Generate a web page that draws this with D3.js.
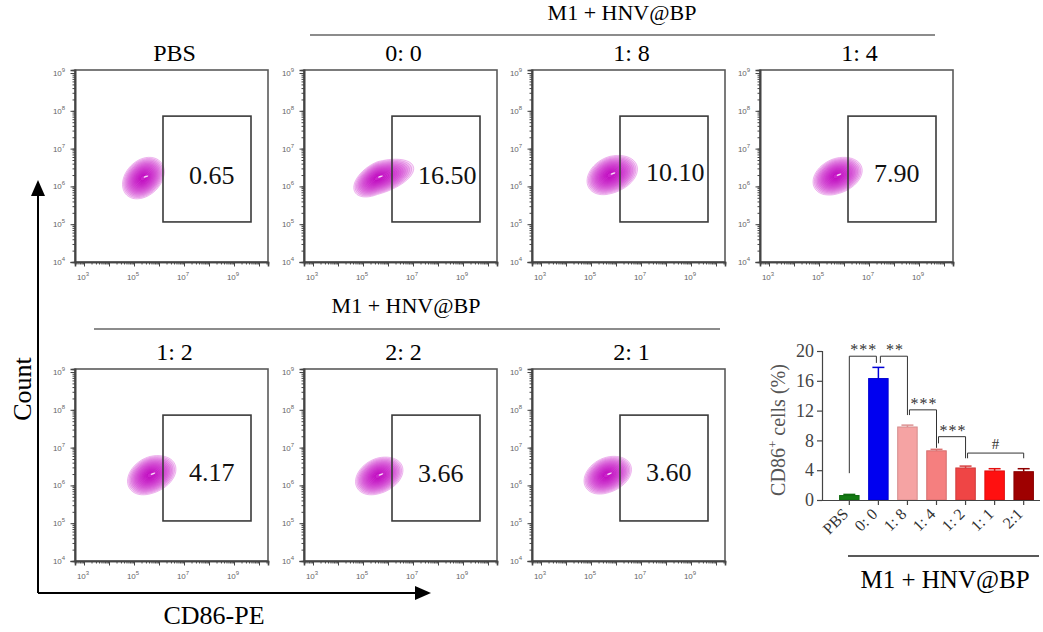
<!DOCTYPE html>
<html>
<head>
<meta charset="utf-8">
<script src="https://cdn.jsdelivr.net/npm/d3@7"></script>
<style>
  body { margin: 0; background: #fff; }
  svg { display: block; font-family: "Liberation Serif", "Times New Roman", serif; }
</style>
</head>
<body>
<svg id="fig" width="1043" height="632"></svg>
<script>
// ---- flow panels ----
var panelTitles = ["PBS", "0: 0", "1: 8", "1: 4", "1: 2", "2: 2", "2: 1"];
var gateValues = ["0.65", "16.50", "10.10", "7.90", "4.17", "3.66", "3.60"];
// population blob, log10 units
var popX = [5.36, 5.58, 5.76, 5.68, 5.64, 5.60, 5.62];
var popY = [6.22, 6.22, 6.30, 6.27, 6.27, 6.25, 6.27];
var popSpreadL = [0.82, 0.95, 0.92, 0.92, 0.9, 0.9, 0.9];
var popSpreadR = [0.85, 1.45, 1.10, 1.05, 1.04, 1.0, 1.0];
var popSpreadY = [0.55, 0.50, 0.52, 0.50, 0.52, 0.50, 0.50];
var popTilt = [0.3, 0.5, 0.3, 0.3, 0.3, 0.3, 0.3];
var gateX = [6.16, 9.68];
var gateY = [5.06, 7.86];
var xLabelExp = [3, 5, 7, 9];
var yLabelExp = [4, 5, 6, 7, 8, 9];

// ---- bar chart ----
var barGroups = ["PBS", "0: 0", "1: 8", "1: 4", "1: 2", "1: 1", "2:1"];
var barMean = [0.6, 16.3, 9.8, 6.6, 4.3, 3.9, 3.8];
var barErr = [0.15, 1.5, 0.25, 0.2, 0.25, 0.3, 0.4];
var barColors = ["#127a12", "#0000f0", "#f5a3a3", "#f57f7f", "#ef4545", "#ff1010", "#9e0000"];
var yTicks = [0, 4, 8, 12, 16, 20];
// significance brackets
var sigFrom = [0, 1, 2, 3, 4];
var sigTo = [1, 2, 3, 4, 6];
var sigLeft = [3.6, 18.4, 11.4, 7.6, 5.6];
var sigTop = [19.3, 19.3, 12.1, 8.5, 6.3];
var sigRight = [18.4, 11.4, 7.0, 5.6, 5.6];
var sigLabel = ["***", "**", "***", "***", "#"];

var svg = d3.select("#fig");
var serif = '"Liberation Serif", "Times New Roman", serif';

var colX = [75, 304, 532, 760];
var rowY = [70, 369];
var PW = 193, PH = 192;

var x = d3.scaleLog().domain([Math.pow(10, 2.64), Math.pow(10, 10.36)]).range([0, PW]);
var y = d3.scaleLog().domain([1e4, Math.pow(10, 9.08)]).range([PH, 0]);

var minorX = [], minorY = [];
for (var d = 2; d <= 10; d++) {
  for (var m = 1; m <= 9; m++) {
    var v = m * Math.pow(10, d);
    if (v >= x.domain()[0] && v <= x.domain()[1]) minorX.push(v);
    if (v >= y.domain()[0] && v <= y.domain()[1]) minorY.push(v);
  }
}
var majorX = minorX.filter(function(v) { return Math.abs(Math.log10(v) % 1) < 1e-9; });
var majorY = minorY.filter(function(v) { return Math.abs(Math.log10(v) % 1) < 1e-9; });

var levels = d3.range(16).map(function(i) { return 1 - i * 0.058; });
var ringColor = d3.interpolateRgb("#e590e5", "#b800b8");

function blobPath(i, k) {
  var pts = d3.range(0, 2 * Math.PI, Math.PI / 24).map(function(t) {
    var a = Math.cos(t) < 0 ? popSpreadL[i] : popSpreadR[i];
    var r = popTilt[i];
    var lx = popX[i] + k * a * Math.cos(t);
    var ly = popY[i] + k * popSpreadY[i] * (r * Math.cos(t) + Math.sqrt(1 - r * r) * Math.sin(t));
    return [x(Math.pow(10, lx)), y(Math.pow(10, ly))];
  });
  return d3.line().curve(d3.curveCardinalClosed)(pts);
}

function sup(sel, exp) {
  sel.append("tspan").text("10");
  sel.append("tspan").attr("dy", -4).attr("font-size", 6).text(exp);
}

panelTitles.forEach(function(title, i) {
  var px = i < 4 ? colX[i] : colX[i - 4];
  var py = i < 4 ? rowY[0] : rowY[1];
  var g = svg.append("g").attr("transform", "translate(" + px + "," + py + ")");

  g.append("text").attr("x", PW / 2 + 3).attr("y", -9)
    .attr("text-anchor", "middle").attr("font-size", 24).text(title);

  // contours
  var blob = g.append("g");
  levels.forEach(function(k, j) {
    blob.append("path").attr("d", blobPath(i, k))
      .attr("fill", "#cc14cc").attr("fill-opacity", 0.15)
      .attr("stroke", ringColor(j / (levels.length - 1)))
      .attr("stroke-width", 0.7).attr("stroke-opacity", 0.85);
  });
  var wx = x(Math.pow(10, popX[i] + 0.12)), wy = y(Math.pow(10, popY[i] + 0.04));
  blob.append("ellipse").attr("cx", wx).attr("cy", wy)
    .attr("rx", 2.5).attr("ry", 0.8).attr("fill", "#fff").attr("opacity", 0.85)
    .attr("transform", "rotate(-20," + wx + "," + wy + ")");

  // frame
  g.append("rect").attr("width", PW).attr("height", PH)
    .attr("fill", "none").attr("stroke", "#5a5a5a").attr("stroke-width", 1.6);

  // axes
  var ax = g.append("g").attr("transform", "translate(0," + PH + ")");
  ax.call(d3.axisBottom(x).tickValues(minorX).tickSize(2.5).tickFormat(""));
  ax.append("g").call(d3.axisBottom(x).tickValues(majorX).tickSize(4.5).tickFormat(""));
  ax.selectAll(".domain").attr("stroke", "#444").attr("stroke-width", 1.6);
  ax.selectAll(".tick line").attr("stroke", "#444");
  xLabelExp.forEach(function(e) {
    var t = ax.append("text").attr("x", x(Math.pow(10, e)) - 1).attr("y", 18)
      .attr("text-anchor", "middle").attr("font-family", "Arial, sans-serif")
      .attr("font-size", 8).attr("fill", "#666");
    sup(t, e);
  });

  var ay = g.append("g");
  ay.call(d3.axisLeft(y).tickValues(minorY).tickSize(2.5).tickFormat(""));
  ay.append("g").call(d3.axisLeft(y).tickValues(majorY).tickSize(4.5).tickFormat(""));
  ay.selectAll(".domain").attr("stroke", "#444").attr("stroke-width", 1.6);
  ay.selectAll(".tick line").attr("stroke", "#444");
  yLabelExp.forEach(function(e) {
    var t = ay.append("text").attr("x", -16).attr("y", y(Math.pow(10, e)) + 3)
      .attr("text-anchor", "middle").attr("font-family", "Arial, sans-serif")
      .attr("font-size", 8).attr("fill", "#666");
    sup(t, e);
  });

  // gate
  var gx0 = x(Math.pow(10, gateX[0])), gx1 = x(Math.pow(10, gateX[1]));
  var gy0 = y(Math.pow(10, gateY[1])), gy1 = y(Math.pow(10, gateY[0]));
  g.append("rect").attr("x", gx0).attr("y", gy0)
    .attr("width", gx1 - gx0).attr("height", gy1 - gy0)
    .attr("fill", "none").attr("stroke", "#3a3a3a").attr("stroke-width", 1.6);
  g.append("text").attr("x", gx0 + 26).attr("y", y(Math.pow(10, popY[i])) + 6)
    .attr("font-family", serif).attr("font-size", 26).attr("fill", "#111").text(gateValues[i]);
});

// group headers
function header(cx, by, x0, x1, ly, size) {
  svg.append("text").attr("x", cx).attr("y", by).attr("text-anchor", "middle")
    .attr("font-size", size).text("M1 + HNV@BP");
  svg.append("line").attr("x1", x0).attr("x2", x1).attr("y1", ly).attr("y2", ly)
    .attr("stroke", "#666").attr("stroke-width", 1.3);
}
header(622, 20, 310, 935, 35, 22);
header(406, 313, 94, 720, 329, 22);

// big arrows
svg.append("path").attr("d", "M38,593 V194 M38,593 H416")
  .attr("fill", "none").attr("stroke", "#000").attr("stroke-width", 2);
svg.append("path").attr("d", "M38,180 L31,196 L45,196 Z").attr("fill", "#000");
svg.append("path").attr("d", "M431,593 L415,586 L415,600 Z").attr("fill", "#000");
svg.append("text").attr("transform", "translate(31,389) rotate(-90)")
  .attr("text-anchor", "middle").attr("font-size", 26).text("Count");
svg.append("text").attr("x", 214).attr("y", 624)
  .attr("text-anchor", "middle").attr("font-size", 26).text("CD86-PE");

// ---- bar chart ----
var bx = d3.scaleBand().domain(barGroups).range([830, 1043]).padding(0.33);
var by = d3.scaleLinear().domain([0, 20]).range([500, 351]);
var bc = function(i) { return bx(barGroups[i]) + bx.bandwidth() / 2; };

var bar = svg.append("g");
bar.selectAll("line.err").data(barGroups).enter().append("line")
  .attr("x1", function(d, i) { return bc(i); }).attr("x2", function(d, i) { return bc(i); })
  .attr("y1", function(d, i) { return by(barMean[i]); })
  .attr("y2", function(d, i) { return by(barMean[i] + barErr[i]); })
  .attr("stroke", function(d, i) { return d3.color(barColors[i]).darker(0.3); })
  .attr("stroke-width", 1.5);
bar.selectAll("line.cap").data(barGroups).enter().append("line")
  .attr("x1", function(d, i) { return bc(i) - 6; }).attr("x2", function(d, i) { return bc(i) + 6; })
  .attr("y1", function(d, i) { return by(barMean[i] + barErr[i]); })
  .attr("y2", function(d, i) { return by(barMean[i] + barErr[i]); })
  .attr("stroke", function(d, i) { return d3.color(barColors[i]).darker(0.3); })
  .attr("stroke-width", 1.5);
bar.selectAll("rect").data(barGroups).enter().append("rect")
  .attr("x", function(d) { return bx(d); })
  .attr("y", function(d, i) { return by(barMean[i]); })
  .attr("width", bx.bandwidth())
  .attr("height", function(d, i) { return by(0) - by(barMean[i]); })
  .attr("fill", function(d, i) { return barColors[i]; })
  .attr("stroke", function(d, i) { return d3.color(barColors[i]).darker(0.4); })
  .attr("stroke-width", 1);

var yAx = svg.append("g").attr("transform", "translate(822,0)")
  .call(d3.axisLeft(by).tickValues(yTicks).tickSize(5).tickPadding(3));
yAx.selectAll("text").attr("font-family", serif).attr("font-size", 18).attr("fill", "#444");
yAx.selectAll("line, path").attr("stroke", "#444").attr("stroke-width", 1.2);

var xAx = svg.append("g").attr("transform", "translate(0,500)")
  .call(d3.axisBottom(bx).tickSize(5).tickSizeOuter(0));
xAx.select(".domain").attr("d", "M822,0.5H1040");
xAx.selectAll("line, path").attr("stroke", "#444").attr("stroke-width", 1.2);
xAx.selectAll("text").attr("font-family", serif).attr("font-size", 16).attr("fill", "#333")
  .attr("text-anchor", "end").attr("dy", 0).attr("y", 0)
  .attr("transform", "translate(0,15) rotate(-45)");

svg.append("text").attr("transform", "translate(785,430) rotate(-90)")
  .attr("text-anchor", "middle").attr("font-size", 20).attr("fill", "#555")
  .call(function(t) {
    t.append("tspan").text("CD86");
    t.append("tspan").attr("dy", -8).attr("font-size", 13).text("+");
    t.append("tspan").attr("dy", 8).text(" cells (%)");
  });

// significance brackets
sigLabel.forEach(function(lab, i) {
  var xa = bc(sigFrom[i]) + (i === 0 ? 0 : 2), xb = bc(sigTo[i]) - (i === 0 ? 2 : 0);
  svg.append("path")
    .attr("d", "M" + xa + "," + by(sigLeft[i]) + "V" + by(sigTop[i]) + "H" + xb + "V" + by(sigRight[i]))
    .attr("fill", "none").attr("stroke", "#333").attr("stroke-width", 1);
  svg.append("text").attr("x", (xa + xb) / 2 + (lab === "#" ? 0 : 1)).attr("y", by(sigTop[i]) - (lab === "#" ? 4 : 1))
    .attr("text-anchor", "middle").attr("font-size", lab === "#" ? 15 : 16)
    .attr("letter-spacing", lab === "#" ? 0 : 1).attr("fill", "#333").text(lab);
});

svg.append("line").attr("x1", 848).attr("x2", 1039).attr("y1", 556).attr("y2", 556)
  .attr("stroke", "#222").attr("stroke-width", 1.3);
svg.append("text").attr("x", 945).attr("y", 588).attr("text-anchor", "middle")
  .attr("font-size", 25).text("M1 + HNV@BP");
</script>
</body>
</html>
